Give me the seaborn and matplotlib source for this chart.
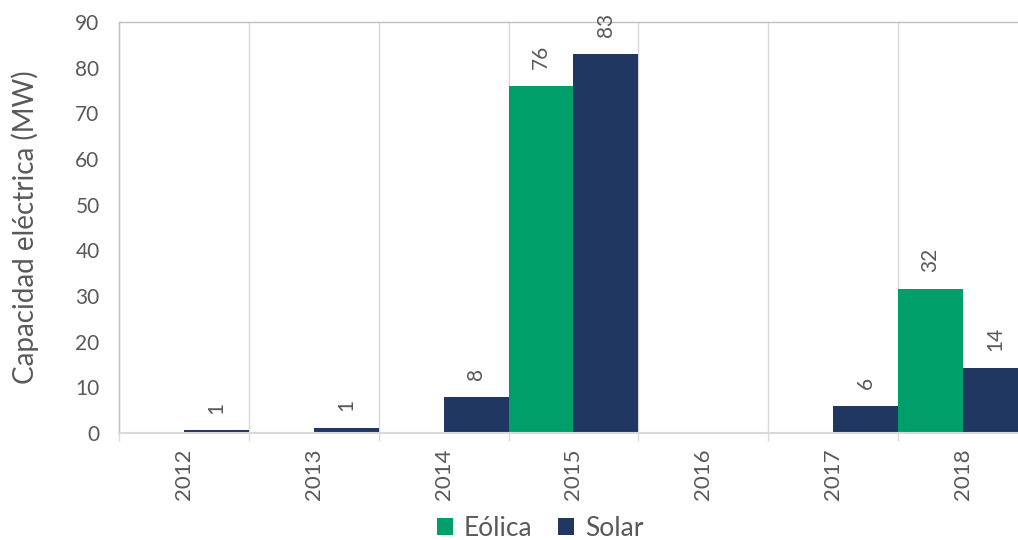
import matplotlib
matplotlib.use("Agg")
import matplotlib.pyplot as plt
import seaborn as sns
import pandas as pd
from matplotlib.ticker import FixedLocator

years = ["2012", "2013", "2014", "2015", "2016", "2017", "2018"]
eolica = [0, 0, 0, 76.0, 0, 0, 31.6]
solar = [0.6, 1.1, 7.9, 83.1, 0, 6.0, 14.2]
series = ["Eólica", "Solar"]
colors = ["#009E69", "#1F3761"]
y_ticks = [0, 10, 20, 30, 40, 50, 60, 70, 80, 90]

df = pd.DataFrame({
    "Año": years * 2,
    "Serie": [series[0]] * len(years) + [series[1]] * len(years),
    "MW": eolica + solar,
})

sns.set_theme(style="white")
plt.rcParams["font.family"] = ["Lato", "DejaVu Sans"]
text_color = "#595959"
grid_color = "#D9D9D9"

fig = plt.figure(figsize=(10.18, 5.40), dpi=100)
ax = fig.add_axes([119 / 1018, 1 - 433 / 540, (1028 - 119) / 1018, (433 - 22) / 540])

sns.barplot(data=df, x="Año", y="MW", hue="Serie", hue_order=series,
            palette=colors, width=1.0, saturation=1, ax=ax, legend=True,
            linewidth=0)

for cont in ax.containers:
    vals = cont.datavalues
    ax.bar_label(cont, labels=[f"{v:.0f}" if v > 0 else "" for v in vals],
                 rotation=90, padding=12, fontsize=15, color=text_color)

ax.set_xlim(-0.5, len(years) - 0.5)
ax.set_ylim(0, 90)
ax.set_yticks(y_ticks)
ax.set_xlabel("")
ax.set_ylabel("Capacidad eléctrica (MW)", fontsize=20, color=text_color, labelpad=26)

ax.xaxis.set_minor_locator(FixedLocator([i - 0.5 for i in range(len(years) + 1)]))
ax.grid(False)
ax.grid(True, which="minor", axis="x", color=grid_color, linewidth=1)
ax.set_axisbelow(True)
ax.tick_params(axis="x", which="major", length=0, pad=11, labelsize=16,
               labelcolor=text_color, rotation=90)
ax.tick_params(axis="x", which="minor", length=6, width=1, color=grid_color,
               direction="out", bottom=True)
ax.tick_params(axis="y", length=0, pad=14, labelsize=15, labelcolor=text_color)

for name, sp in ax.spines.items():
    sp.set_color("#BFBFBF")
    sp.set_linewidth(1)
ax.spines["bottom"].set_color(grid_color)
ax.spines["bottom"].set_linewidth(1.5)

leg = ax.legend(loc="center", bbox_to_anchor=(540 / 1018, 1 - 528 / 540),
                bbox_transform=fig.transFigure, ncol=2, frameon=False,
                fontsize=19, handlelength=0.6, handleheight=0.6,
                handletextpad=0.4, columnspacing=1.0, labelcolor=text_color)

fig.savefig("out.png", dpi=100)
